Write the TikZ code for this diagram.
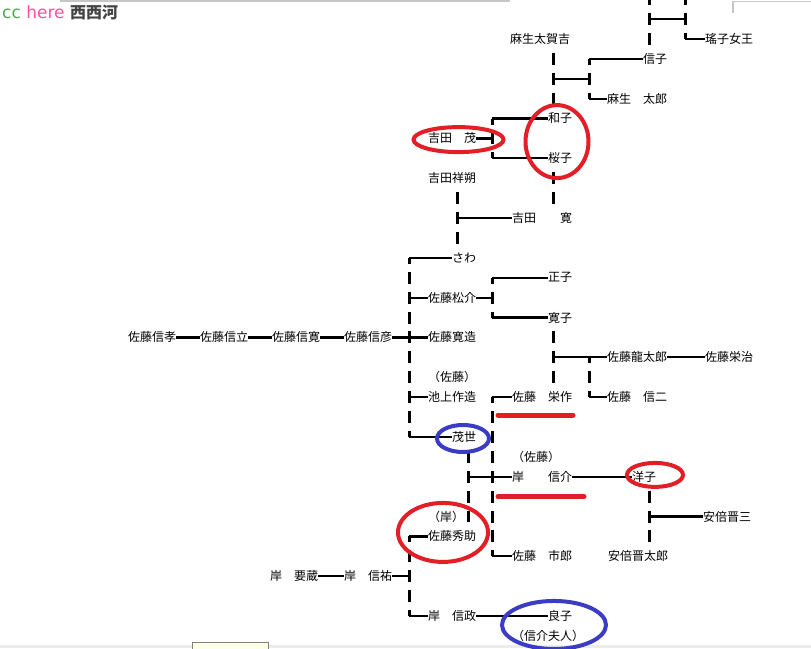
\documentclass[tikz,border=0pt]{standalone}
\usepackage{fontspec}
\newfontfamily\jp{Noto Sans CJK JP}
\newfontfamily\logofont{DejaVu Sans}
\definecolor{markred}{RGB}{226,30,38}
\definecolor{markblue}{RGB}{58,60,196}
\definecolor{ccgreen}{RGB}{76,170,80}
\definecolor{herepink}{RGB}{255,80,160}
\definecolor{logogray}{RGB}{68,68,68}
\tikzset{
person/.style={anchor=west, inner sep=0pt, font=\jp\fontsize{12}{14}\selectfont},
hline/.style={line width=2.2pt},
vdash/.style={line width=3pt, dash pattern=on 12pt off 7.9pt},
vcorner/.style={vdash, dash phase=6pt},
ring/.style={line width=4pt},
underline/.style={line width=5pt, line cap=round, markred}}

\begin{document}
\begin{tikzpicture}[x=1pt, y=-19.9pt]

    \useasboundingbox (0,-0.955) rectangle (811,31.608);
    \fill[white] (0,-0.955) rectangle (811,31.608);
    \clip (0,-0.955) rectangle (811,31.608);

    \draw[gray!45, line width=1.2pt] (60,-0.905) -- (510,-0.905);
    \draw[gray!45, line width=1.2pt] (733,-0.3) -- (733,-0.88) -- (811,-0.88);
    \fill[gray!15] (0,31.457) rectangle (811,31.608);
    \filldraw[fill=yellow!10, draw=gray] (192,31.306) rectangle (268,31.8);

    \node[anchor=west, inner sep=0pt] (logo) at (2,-0.35) {\logofont\fontsize{17}{20}\selectfont\textcolor{ccgreen}{cc} \textcolor{herepink}{here} \jp\bfseries\fontsize{16}{18}\selectfont\textcolor{logogray}{西西河}};

    \node[person] (takakichi) at (510,1) {麻生太賀吉};
    \node[person] (princess) at (705,1) {瑤子女王};
    \node[person] (nobuko) at (643,2) {信子};
    \node[person] (taro) at (607,4) {麻生　太郎};
    \node[person] (kazuko) at (548,5) {和子};
    \node[person] (shigeru) at (428,6) {吉田　茂};
    \node[person] (sakurako) at (548,7) {桜子};
    \node[person] (shosaku) at (428,8) {吉田祥朔};
    \node[person] (hiroshi) at (512,10) {吉田　　寛};
    \node[person] (sawa) at (452,12) {さわ};
    \node[person] (masako) at (548,13) {正子};
    \node[person] (matsusuke) at (428,14) {佐藤松介};
    \node[person] (hiroko) at (548,15) {寛子};
    \node[person] (nobutaka) at (128,16) {佐藤信孝};
    \node[person] (nobutatsu) at (200,16) {佐藤信立};
    \node[person] (nobuhiro) at (272,16) {佐藤信寛};
    \node[person] (nobuhiko) at (344,16) {佐藤信彦};
    \node[person] (kanzo) at (428,16) {佐藤寛造};
    \node[person] (ryutaro) at (607,17) {佐藤龍太郎};
    \node[person] (eiji) at (705,17) {佐藤栄治};
    \node[person] (satoA) at (428,18) {（佐藤）};
    \node[person] (sakuzo) at (428,19) {池上作造};
    \node[person] (eisaku) at (512,19) {佐藤　栄作};
    \node[person] (shinji) at (607,19) {佐藤　信二};
    \node[person] (moyo) at (452,21) {茂世};
    \node[person] (satoB) at (512,22) {（佐藤）};
    \node[person] (nobusuke) at (512,23) {岸　　信介};
    \node[person] (yoko) at (632,23) {洋子};
    \node[person] (kishiA) at (428,25) {（岸）};
    \node[person] (shinzo) at (703,25) {安倍晋三};
    \node[person] (hidesuke) at (428,26) {佐藤秀助};
    \node[person] (ichiro) at (512,27) {佐藤　市郎};
    \node[person] (shintaro) at (608,27) {安倍晋太郎};
    \node[person] (yozo) at (270,28) {岸　要蔵};
    \node[person] (shinyu) at (344,28) {岸　信祐};
    \node[person] (nobumasa) at (428,30) {岸　信政};
    \node[person] (yoshiko) at (548,30) {良子};
    \node[person] (fujin) at (512,31) {（信介夫人）};

    \coordinate (nobuTop) at (649,-1.3);
    \coordinate (nobuBot) at (649,1.3);
    \coordinate (nobuBar) at (649,0);
    \coordinate (tomoTop) at (685,-1.3);
    \coordinate (tomoBot) at (685,1);
    \coordinate (tomoBar) at (685,0);
    \draw[vdash] (nobuTop) -- (nobuBot);
    \draw[vdash] (tomoTop) -- (tomoBot);
    \draw[hline] (nobuBar) -- (tomoBar);
    \draw[hline] (tomoBot) -- (princess.west);

    \coordinate (asoTop) at (553,1.7);
    \coordinate (asoBot) at (553,4.3);
    \coordinate (asoBar) at (553,3);
    \coordinate (taroBar) at (589,3);
    \coordinate (taroTop) at (589,2);
    \coordinate (taroBot) at (589,4);
    \draw[vdash] (asoTop) -- (asoBot);
    \draw[hline] (asoBar) -- (taroBar);
    \draw[vcorner] (taroTop) -- (taroBot);
    \draw[hline] (taroTop) -- (nobuko.west);
    \draw[hline] (taroBot) -- (taro.west);

    \coordinate (shigeruJ) at (492,6);
    \coordinate (shigeruTop) at (492,5);
    \coordinate (shigeruBot) at (492,7);
    \draw[hline] (shigeru.east) -- (shigeruJ);
    \draw[vcorner] (shigeruTop) -- (shigeruBot);
    \draw[hline] (shigeruTop) -- (kazuko.west);
    \draw[hline] (shigeruBot) -- (sakurako.west);

    \coordinate (sakuraTop) at (553,7.7);
    \coordinate (sakuraBot) at (553,9.3);
    \draw[vdash] (sakuraTop) -- (sakuraBot);
    \coordinate (shosakuTop) at (457,8.7);
    \coordinate (shosakuBot) at (457,11.3);
    \coordinate (shosakuJ) at (457,10);
    \draw[vdash] (shosakuTop) -- (shosakuBot);
    \draw[hline] (shosakuJ) -- (hiroshi.west);

    \coordinate (kanzoTop) at (409,12);
    \coordinate (kanzoBot) at (409,21);
    \coordinate (matsuJ) at (409,14);
    \coordinate (sakuzoJ) at (409,19);
    \draw[vcorner] (kanzoTop) -- (kanzoBot);
    \draw[hline] (kanzoTop) -- (sawa.west);
    \draw[hline] (matsuJ) -- (matsusuke.west);
    \draw[hline] (sakuzoJ) -- (sakuzo.west);
    \draw[hline] (kanzoBot) -- (moyo.west);
    \draw[hline] (nobutaka.east) -- (nobutatsu.west) (nobutatsu.east) -- (nobuhiro.west)
        (nobuhiro.east) -- (nobuhiko.west) (nobuhiko.east) -- (kanzo.west);

    \coordinate (matsuR) at (492,14);
    \coordinate (matsuTop) at (492,13);
    \coordinate (matsuBot) at (492,15);
    \draw[hline] (matsusuke.east) -- (matsuR);
    \draw[vcorner] (matsuTop) -- (matsuBot);
    \draw[hline] (matsuTop) -- (masako.west);
    \draw[hline] (matsuBot) -- (hiroko.west);

    \coordinate (hirokoTop) at (553,15.7);
    \coordinate (hirokoBot) at (553,18.3);
    \coordinate (ryuJ) at (553,17);
    \draw[vdash] (hirokoTop) -- (hirokoBot);
    \draw[hline] (ryuJ) -- (ryutaro.west);
    \draw[hline] (ryutaro.east) -- (eiji.west);
    \coordinate (shinjiTop) at (589,17);
    \coordinate (shinjiBot) at (589,19);
    \draw[vcorner] (shinjiTop) -- (shinjiBot);
    \draw[hline] (shinjiBot) -- (shinji.west);

    \coordinate (eisakuTop) at (492,19);
    \coordinate (eisakuBot) at (492,27);
    \draw[vcorner] (eisakuTop) -- (eisakuBot);
    \draw[hline] (eisakuTop) -- (eisaku.west);
    \draw[hline] (eisakuBot) -- (ichiro.west);

    \coordinate (moyoTop) at (468,21.7);
    \coordinate (moyoBot) at (468,25.3);
    \coordinate (moyoJ) at (468,23);
    \draw[vdash] (moyoTop) -- (moyoBot);
    \draw[hline] (moyoJ) -- (nobusuke.west);
    \draw[hline] (nobusuke.east) -- (yoko.west);

    \coordinate (yokoTop) at (649,23.7);
    \coordinate (yokoBot) at (649,26.3);
    \coordinate (shinzoJ) at (649,25);
    \draw[vdash] (yokoTop) -- (yokoBot);
    \draw[hline] (shinzoJ) -- (shinzo.west);

    \coordinate (hideTop) at (409,26);
    \coordinate (hideBot) at (409,30);
    \coordinate (shinyuJ) at (409,28);
    \draw[vcorner] (hideTop) -- (hideBot);
    \draw[hline] (hideTop) -- (hidesuke.west);
    \draw[hline] (yozo.east) -- (shinyu.west);
    \draw[hline] (shinyu.east) -- (shinyuJ);
    \draw[hline] (hideBot) -- (nobumasa.west);
    \draw[hline] (nobumasa.east) -- (yoshiko.west);

    \draw[ring, markred] (458.5,6.06) ellipse [x radius=45pt, y radius=12.5pt];
    \draw[ring, markred] (557,6.16) ellipse [x radius=31.5pt, y radius=36.5pt];
    \draw[ring, markblue] (463,21.08) ellipse [x radius=26pt, y radius=13.5pt];
    \draw[ring, markred] (655,22.91) ellipse [x radius=28pt, y radius=12pt];
    \draw[ring, markred] (443,25.8) ellipse [x radius=45pt, y radius=29.5pt];
    \draw[ring, markblue] (554,30.45) ellipse [x radius=52pt, y radius=24pt];
    \draw[underline] (498,19.9) -- (573,19.9);
    \draw[underline] (498,24) -- (584,24);

\end{tikzpicture}
\end{document}
